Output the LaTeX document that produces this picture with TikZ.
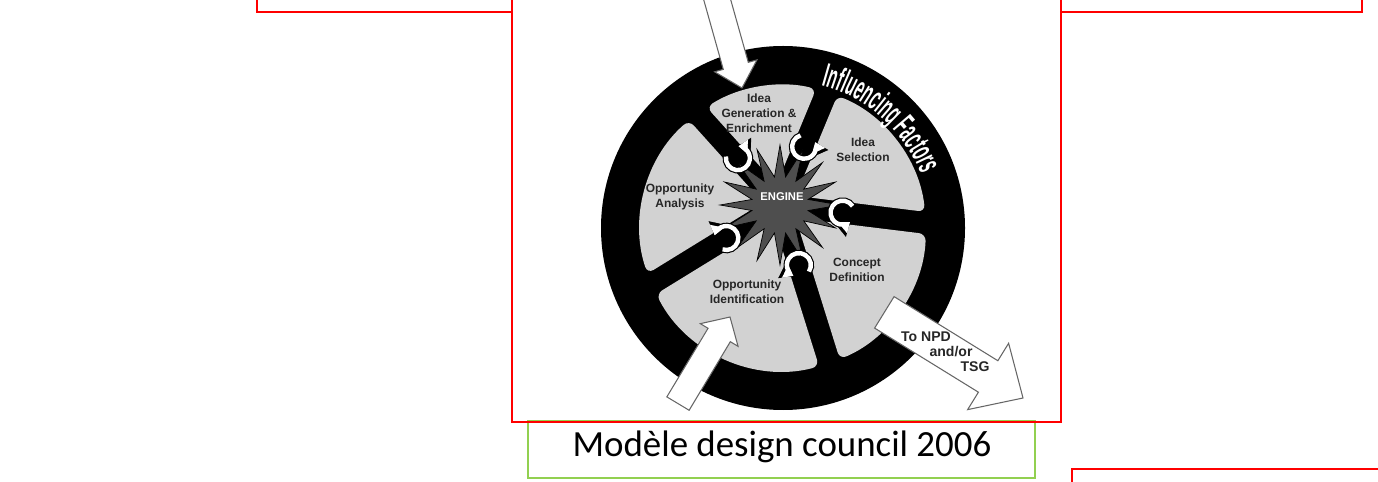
\documentclass[tikz,border=0pt]{standalone}
\usepackage{fontspec}
\setmainfont{Liberation Sans}
\newfontfamily\capfont{Carlito}
\newfontfamily\ringfont[FakeStretch=0.45]{Liberation Sans}
\usetikzlibrary{shapes.geometric,decorations.text,arrows.meta}
\definecolor{segmentgray}{RGB}{210,210,210}
\definecolor{enginegray}{RGB}{78,78,78}
\definecolor{framered}{RGB}{255,0,0}
\definecolor{framegreen}{RGB}{146,208,80}
\tikzset{
  redframe/.style={draw=framered, line width=1.1pt},
  captionbox/.style={draw=framegreen, line width=0.9pt},
  segmentfill/.style={fill=segmentgray, rounded corners=4pt},
  stagelabel/.style={align=center, font=\fontsize{6.8}{8.5}\selectfont\bfseries, text=black!85, inner sep=0pt},
  enginestar/.style={star, star points=16, star point ratio=2.1, minimum size=2.4cm, inner sep=0pt, fill=enginegray, draw=black, line width=0.4pt},
  bigarrow/.style={fill=white, draw=black!60, line width=0.6pt, line join=miter},
  loopout/.style={line width=3.8pt, black, -{Triangle[length=7pt,width=10.5pt,line width=0pt]}},
  loopin/.style={line width=2.5pt, white, -{Triangle[length=5.2pt,width=8pt,line width=0pt]}}
}
\begin{document}
\begin{tikzpicture}[x=0.02cm, y=0.02cm]
  \useasboundingbox (0,0) rectangle (1378,-482);

  \draw[captionbox] (528,-421) rectangle (1035,-478);
  \node[font=\capfont\fontsize{21}{25}\selectfont, anchor=base] (caption) at (782,-456) {Modèle design council 2006};

  \draw[redframe] (257,-12) rectangle (512,20);
  \draw[redframe] (1061,-12) rectangle (1362,20);
  \draw[redframe] (1072,-469) rectangle (1400,-520);
  \draw[redframe] (512,20) rectangle (1061,-422);

  \begin{scope}[shift={(783,-228)}]
    \fill[black] (0,0) circle[radius=182];
    \foreach \ix/\iy/\s/\e in {12.7/32.2/6.5/67.7, -6.5/43.3/76.6/122.3, -20/25.5/131.1/198.6, -9.3/6.2/207.5/284.6, 12.6/10/293.4/357.6}
      \fill[segmentfill] (\ix,\iy) -- (\s:143) arc[start angle=\s, end angle=\e, radius=143] -- cycle;
    \path[decorate, decoration={text along path, text align=center,
      text={|\ringfont\fontsize{19}{19}\selectfont\bfseries\color{white}|Influencing Factors}}]
      (80:148) arc[start angle=80, end angle=16, radius=148];
    \begin{scope}[shift={(-3,23)}]
      \node[enginestar] (star) at (0,0) {};
      \foreach \a in {67.5,-7,-72.6,-148.4,132}{
        \draw[loopout] (\a:63) ++(\a+40:12) arc[start angle=\a+40, delta angle=275, radius=12];
        \draw[loopin] (\a:63) ++(\a+40:12) arc[start angle=\a+40, delta angle=275, radius=12];
      }
    \end{scope}
  \end{scope}

  \node[text=white, font=\fontsize{6.4}{8}\selectfont\bfseries] (engine) at (782,-197) {ENGINE};
  \node[stagelabel] (ideagen) at (759,-113) {Idea\\Generation \&\\Enrichment};
  \node[stagelabel] (ideasel) at (863,-150) {Idea\\Selection};
  \node[stagelabel] (oppana) at (680,-197) {Opportunity\\Analysis};
  \node[stagelabel] (concept) at (857,-270) {Concept\\Definition};
  \node[stagelabel] (oppid) at (747,-292) {Opportunity\\Identification};

  \foreach \tx/\ty/\ang/\len/\sw/\hw/\hl in {742/88/-74.3/150/26/44/23, 730/317/59/101/26/44/21, 1023/398/-31.7/163/37/78/41}
    \draw[bigarrow, shift={(\tx,-\ty)}, rotate=\ang]
      (0,0) -- (-\hl,\hw/2) -- (-\hl,\sw/2) -- (-\len,\sw/2) -- (-\len,-\sw/2) -- (-\hl,-\sw/2) -- (-\hl,-\hw/2) -- cycle;

  \node[stagelabel, font=\fontsize{8}{9}\selectfont\bfseries] (npd) at (926,-337) {To NPD};
  \node[stagelabel, font=\fontsize{8}{9}\selectfont\bfseries] (andor) at (951,-352) {and/or};
  \node[stagelabel, font=\fontsize{8}{9}\selectfont\bfseries] (tsg) at (975,-367) {TSG};
\end{tikzpicture}
\end{document}
